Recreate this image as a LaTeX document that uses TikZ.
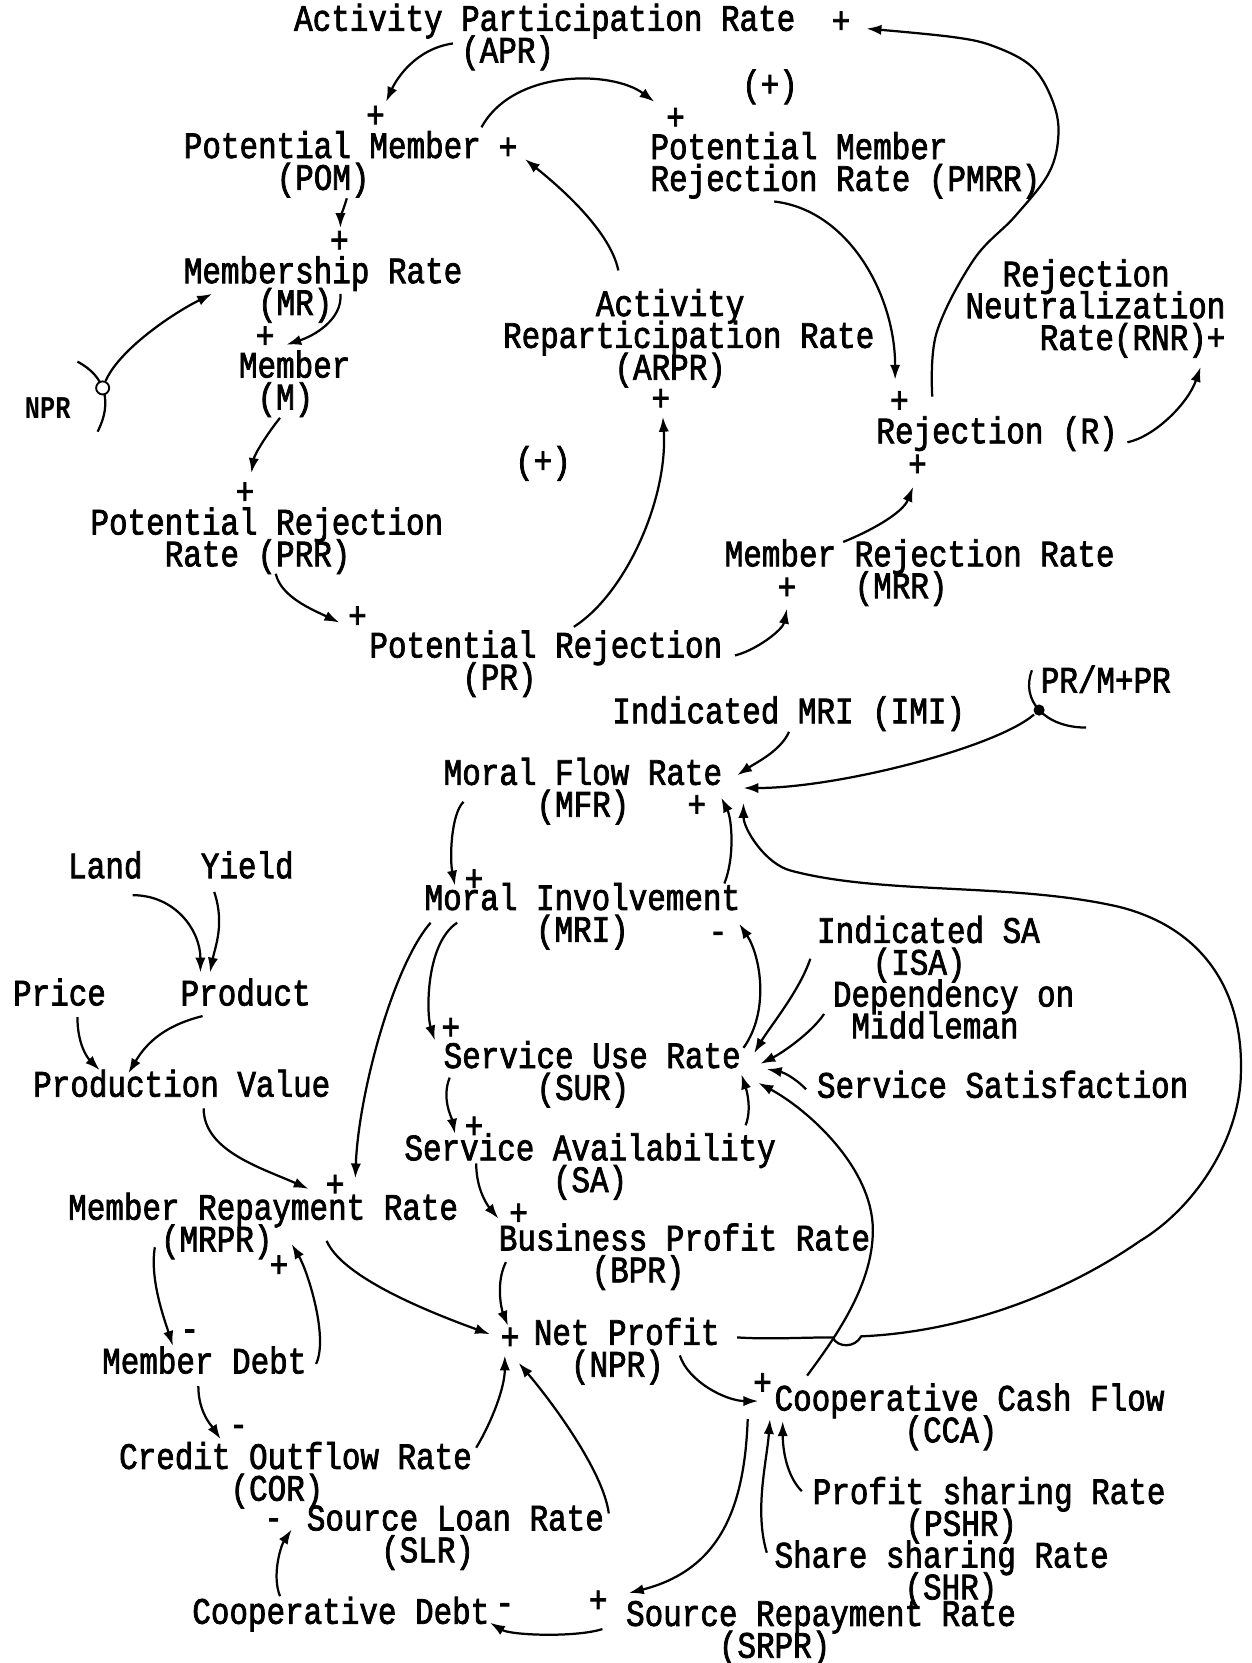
\documentclass[tikz,border=0pt]{standalone}
\usepackage{fontspec}
\usepackage{tikz}
\usetikzlibrary{arrows.meta}
\newfontfamily\tw{Liberation Mono}[FakeStretch=0.83,FakeBold=2]
\newfontfamily\twb{Liberation Mono Bold}[FakeStretch=0.8]
\newlength\cw
\AtBeginDocument{\settowidth\cw{\fontsize{20}{17}\tw M}}
\newcommand\ind[1]{\hspace*{#1\cw}}
% lines of a label, baseline on the first line
\newcommand\stack[1]{\vtop{\baselineskip=17.07pt\lineskiplimit=-16000pt\lineskip=0pt
  \halign{##\hfil\cr#1\crcr}}}

\tikzset{
  var/.style={font=\fontsize{20}{17.07}\tw, anchor=base west, inner sep=0pt},
  sign/.style={font=\fontsize{20}{17.07}\tw, inner sep=0pt},
  arr/.style={-{Latex[length=8pt,width=5.5pt]}, line width=1.2pt},
  junction/.style={circle, draw, fill=white, line width=1pt, inner sep=0pt, minimum size=7pt},
  dot/.style={circle, fill, inner sep=0pt, minimum size=6pt},
}

\begin{document}
\begin{tikzpicture}[x=0.02cm, y=-0.02cm]
        \useasboundingbox (0,0) rectangle (1180,1568);

        % upper loop
        \node[var] (apr) at (277,29) {\stack{Activity Participation Rate\cr\ind{9}(APR)}};
        \node[sign] (apr-p) at (793,21) {+};
        \node[sign] (pom-pt) at (354,110) {+};
        \node[var] (pom) at (173,149) {\stack{Potential Member\cr\ind{5}(POM)}};
        \node[sign] (pom-pr) at (479,140) {+};
        \node[sign] (pmrr-p) at (637,112) {+};
        \node[var] (pmrr) at (613,150) {\stack{Potential Member\cr Rejection Rate (PMRR)}};
        \node[sign] (loop-a) at (726,82) {(+)};
        \node[sign] (mr-p) at (320,228) {+};
        \node[var] (mr) at (173,267) {\stack{Membership Rate\cr\ind{4}(MR)}};
        \node[sign] (m-p) at (250,318) {+};
        \node[var] (m) at (225,356) {\stack{Member\cr\ind{1}(M)}};
        \node[font=\fontsize{17}{17}\twb, inner sep=0pt] (npr) at (45,385) {NPR};
        \node[var] (arpr) at (474,298) {\stack{\ind{5}Activity\cr Reparticipation Rate\cr\ind{6}(ARPR)}};
        \node[sign] (arpr-p) at (623,377) {+};
        \node[sign] (r-pt) at (848,379) {+};
        \node[var] (r) at (826,418) {Rejection (R)};
        \node[sign] (r-pb) at (865,439) {+};
        \node[var] (rnr) at (910,270) {\stack{\ind{2}Rejection\cr Neutralization\cr\ind{4}Rate(RNR)+}};
        \node[sign] (prr-p) at (231,465) {+};
        \node[var] (prr) at (85,504) {\stack{Potential Rejection\cr\ind{4}Rate (PRR)}};
        \node[sign] (loop-b) at (512,437) {(+)};
        \node[sign] (pr-p) at (337,582) {+};
        \node[var] (pr) at (348,620) {\stack{Potential Rejection\cr\ind{5}(PR)}};
        \node[var] (mrr) at (683,534) {\stack{Member Rejection Rate\cr\ind{7}(MRR)}};
        \node[sign] (mrr-p) at (742,555) {+};

        % lower part
        \node[var] (imi) at (577,682) {Indicated MRI (IMI)};
        \node[var] (prm) at (981,653) {PR/M+PR};
        \node[var] (mfr) at (418,740) {\stack{Moral Flow Rate\cr\ind{5}(MFR)}};
        \node[sign] (mfr-p) at (657,760) {+};
        \node[sign] (mri-p) at (447,830) {+};
        \node[var] (mri) at (400,858) {\stack{Moral Involvement\cr\ind{6}(MRI)}};
        \node[sign] (mri-m) at (677,884) {-};
        \node[var] (isa) at (770,889) {\stack{Indicated SA\cr\ind{3}(ISA)}};
        \node[var] (dep) at (785,949) {\stack{Dependency on\cr\ind{1}Middleman}};
        \node[sign] (sur-p) at (425,970) {+};
        \node[var] (sur) at (418,1007) {\stack{Service Use Rate\cr\ind{5}(SUR)}};
        \node[var] (sat) at (770,1035) {Service Satisfaction};
        \node[sign] (sa-p) at (447,1063) {+};
        \node[var] (sa) at (381,1094) {\stack{Service Availability\cr\ind{8}(SA)}};
        \node[sign] (bpr-p) at (489,1145) {+};
        \node[var] (bpr) at (470,1179) {\stack{Business Profit Rate\cr\ind{5}(BPR)}};
        \node[var] (land) at (64,828) {Land};
        \node[var] (yield) at (189,828) {Yield};
        \node[var] (price) at (12,948) {Price};
        \node[var] (product) at (170,948) {Product};
        \node[var] (pv) at (31,1034) {Production Value};
        \node[sign] (mrpr-pt) at (316,1118) {+};
        \node[var] (mrpr) at (64,1150) {\stack{Member Repayment Rate\cr\ind{5}(MRPR)}};
        \node[sign] (mrpr-pb) at (263,1194) {+};
        \node[sign] (netp-p) at (481,1262) {+};
        \node[var] (netp) at (503,1268) {\stack{Net Profit\cr\ind{2}(NPR)}};
        \node[sign] (md-m) at (179,1259) {-};
        \node[var] (mdebt) at (96,1295) {Member Debt};
        \node[sign] (cor-m) at (225,1349) {-};
        \node[var] (cor) at (112,1385) {\stack{Credit Outflow Rate\cr\ind{6}(COR)}};
        \node[sign] (slr-m) at (258,1437) {-};
        \node[var] (slr) at (289,1443) {\stack{Source Loan Rate\cr\ind{4}(SLR)}};
        \node[var] (cdebt) at (181,1531) {Cooperative Debt};
        \node[sign] (cd-m) at (476,1517) {-};
        \node[sign] (srpr-p) at (564,1510) {+};
        \node[var] (srpr) at (590,1533) {\stack{Source Repayment Rate\cr\ind{5}(SRPR)}};
        \node[sign] (cca-p) at (719,1305) {+};
        \node[var] (cca) at (730,1330) {\stack{Cooperative Cash Flow\cr\ind{7}(CCA)}};
        \node[var] (pshr) at (766,1418) {\stack{Profit sharing Rate\cr\ind{5}(PSHR)}};
        \node[var] (shr) at (730,1478) {\stack{Share sharing Rate\cr\ind{7}(SHR)}};

        % input marks
        \draw[line width=1.2pt] (73,341) .. controls (100,355) and (106,380) .. (92,407)
            node[pos=0.45, junction] (npr-j) {};
        \draw[line width=1.2pt] (973,632) .. controls (962,660) and (985,686) .. (1024,686)
            node[pos=0.5, dot] (prm-j) {};

        % upper links
        \draw[arr] ([shift={(150,12)}]apr.base west) .. controls +(-35,5) and +(10,-22) .. ([shift={(10,-14)}]pom-pt.center);
        \draw[arr] ([shift={(281,-29)}]pom.base west) .. controls +(30,-55) and +(-40,-30) .. ([shift={(-20,-16)}]pmrr-p.center);
        \draw[arr] ([shift={(109,-43)}]arpr.base west) .. controls +(-8,-40) and +(25,20) .. ([shift={(16,10)}]pom-pr.center);
        \draw[arr] ([shift={(117,40)}]pmrr.base west) .. controls +(70,8) and +(0,-80) .. ([shift={(-4,-21)}]r-pt.center);
        \draw[arr] plot[smooth, tension=0.6] coordinates {([shift={(53,-44)}]r.base west) (883,314) (918,245) (957,204) (989,163) (998,126) (992,94) (973,63) (938,44) (899,35) ([shift={(24,6)}]apr-p.center)};
        \draw[arr] ([shift={(237,-1)}]r.base west) .. controls +(25,-5) and +(-12,35) .. ([shift={(222,76)}]rnr.base west);
        \draw[arr] ([shift={(112,-23)}]mrr.base west) .. controls +(25,-10) and +(-10,25) .. ([shift={(-4,20)}]r-pb.center);
        \draw[arr] ([shift={(345,-2)}]pr.base west) .. controls +(20,-5) and +(-4,20) .. ([shift={(0,19)}]mrr-p.center);
        \draw[arr] ([shift={(193,-29)}]pr.base west) .. controls +(49,-31) and +(5,77) .. ([shift={(2,16)}]arpr-p.center);
        \draw[arr] ([shift={(154,38)}]pom.base west) .. controls +(-3,10) and +(0,-10) .. ([shift={(1,-13)}]mr-p.center);
        \draw[arr] ([shift={(148,10)}]mr.base west) .. controls +(2,25) and +(25,-8) .. ([shift={(20,7)}]m-p.center);
        \draw[arr] (npr-j) .. controls +(15,-35) and +(-40,20) .. ([shift={(27,10)}]mr.base west);
        \draw[arr] ([shift={(39,38)}]m.base west) .. controls +(-12,15) and +(3,-18) .. ([shift={(6,-19)}]prr-p.center);
        \draw[arr] ([shift={(175,37)}]prr.base west) .. controls +(5,22) and +(-25,-12) .. ([shift={(-17,5)}]pr-p.center);

        % lower links
        \draw[arr] ([shift={(167,8)}]imi.base west) .. controls +(-8,18) and +(18,-12) .. ([shift={(277,-9)}]mfr.base west);
        \draw[arr] (prm-j) .. controls +(-40,35) and +(90,0) .. ([shift={(283,3)}]mfr.base west);
        \draw[arr] ([shift={(19,16)}]mfr.base west) .. controls +(-12,12) and +(-5,-25) .. ([shift={(-18,5)}]mri-p.center);
        \draw[arr] ([shift={(6,12)}]mri.base west) .. controls +(-35,40) and +(3,-80) .. ([shift={(19,-7)}]mrpr-pt.center);
        \draw[arr] ([shift={(31,12)}]mri.base west) .. controls +(-30,20) and +(-8,-25) .. ([shift={(-15,11)}]sur-p.center);
        \draw[arr] ([shift={(283,-19)}]sur.base west) .. controls +(25,-35) and +(20,30) .. ([shift={(20,-13)}]mri-m.center);
        \draw[arr] ([shift={(283,-25)}]mri.base west) .. controls +(10,-25) and +(10,20) .. ([shift={(262,12)}]mfr.base west);
        \draw[arr] ([shift={(-6,15)}]isa.base west) .. controls +(-10,30) and +(15,-25) .. ([shift={(293,-14)}]sur.base west);
        \draw[arr] ([shift={(-8,7)}]dep.base west) .. controls +(-12,18) and +(20,-10) .. ([shift={(299,-4)}]sur.base west);
        \draw[arr] ([shift={(-10,-8)}]sat.base west) .. controls +(-12,-12) and +(15,3) .. ([shift={(305,1)}]sur.base west);
        \draw[arr] ([shift={(322,-33)}]sa.base west) .. controls +(6,-15) and +(5,15) .. ([shift={(281,6)}]sur.base west);
        \draw[arr] ([shift={(31,-33)}]cca.base west) .. controls (790,1258) and (823,1210) .. (823,1160)
            .. controls (823,1100) and (760,1045) .. ([shift={(297,14)}]sur.base west);
        \draw[arr] ([shift={(6,9)}]sur.base west) .. controls +(-8,20) and +(-3,-15) .. ([shift={(-18,6)}]sa-p.center);
        \draw[arr] ([shift={(68,3)}]sa.base west) .. controls +(0,25) and +(-10,-12) .. ([shift={(-19,4)}]bpr-p.center);
        \draw[arr] ([shift={(7,11)}]bpr.base west) .. controls +(-10,20) and +(-6,-15) .. ([shift={(-2,-12)}]netp-p.center);
        \draw[arr] ([shift={(244,20)}]mrpr.base west) .. controls +(15,35) and +(-55,-20) .. ([shift={(-19,-4)}]netp-p.center);
        \draw[arr] ([shift={(337,-20)}]cor.base west) .. controls +(15,-25) and +(0,30) .. ([shift={(-5,16)}]netp-p.center);
        \draw[arr] ([shift={(285,-16)}]slr.base west) .. controls +(-5,-40) and +(30,35) .. ([shift={(8,23)}]netp-p.center);
        \draw[arr] ([shift={(161,11)}]pv.base west) .. controls +(0,40) and +(-45,-20) .. ([shift={(-25,3)}]mrpr-pt.center);
        \draw[arr] ([shift={(82,26)}]mrpr.base west) .. controls +(-5,30) and +(-8,-25) .. ([shift={(-16,10)}]md-m.center);
        \draw[arr] ([shift={(202,-9)}]mdebt.base west) .. controls +(12,-25) and +(15,25) .. ([shift={(12,-21)}]mrpr-pb.center);
        \draw[arr] ([shift={(91,12)}]mdebt.base west) .. controls +(0,25) and +(-8,-12) .. ([shift={(-17,8)}]cor-m.center);
        \draw[arr] ([shift={(83,-26)}]cdebt.base west) .. controls +(-8,-20) and +(-10,15) .. ([shift={(17,5)}]slr-m.center);
        \draw[arr] ([shift={(-22,3)}]srpr.base west) .. controls +(-25,8) and +(20,12) .. ([shift={(-14,13)}]cd-m.center);
        \draw[arr] ([shift={(-25,8)}]cca.base west) .. controls +(-3,82) and +(87,-22) .. ([shift={(29,-8)}]srpr-p.center);
        \draw[arr] ([shift={(138,10)}]netp.base west) .. controls +(8,25) and +(-30,0) .. ([shift={(-4,16)}]cca-p.center);
        \draw[arr] ([shift={(-7,-14)}]shr.base west) .. controls +(-12,-40) and +(-3,40) .. ([shift={(-4,8)}]cca.base west);
        \draw[arr] ([shift={(-10,-12)}]pshr.base west) .. controls +(-15,-15) and +(0,25) .. ([shift={(8,10)}]cca.base west);
        \draw[arr] ([shift={(61,16)}]land.base west) .. controls +(40,0) and +(0,-40) .. ([shift={(19,-31)}]product.base west);
        \draw[arr] ([shift={(13,13)}]yield.base west) .. controls +(10,30) and +(5,-25) .. ([shift={(28,-31)}]product.base west);
        \draw[arr] ([shift={(61,11)}]price.base west) .. controls +(0,25) and +(-12,-12) .. ([shift={(63,-25)}]pv.base west);
        \draw[arr] ([shift={(21,10)}]product.base west) .. controls +(-40,10) and +(15,-25) .. ([shift={(90,-22)}]pv.base west);

        % net profit back to moral flow rate, hopping over the cash flow link
        \draw[arr] ([shift={(192,-7)}]netp.base west) .. controls +(30,2) and +(-30,0) .. (785,1261)
            .. controls (790,1271) and (806,1271) .. (812,1260)
            .. controls (905,1256) and (1000,1222) .. (1075,1170)
            .. controls (1128,1138) and (1170,1072) .. (1170,1010)
            .. controls (1172,935) and (1135,875) .. (1055,855)
            .. controls (955,832) and (833,844) .. (746,821)
            .. controls (722,815) and (701,782) .. ([shift={(283,17)}]mfr.base west);
\end{tikzpicture}
\end{document}
